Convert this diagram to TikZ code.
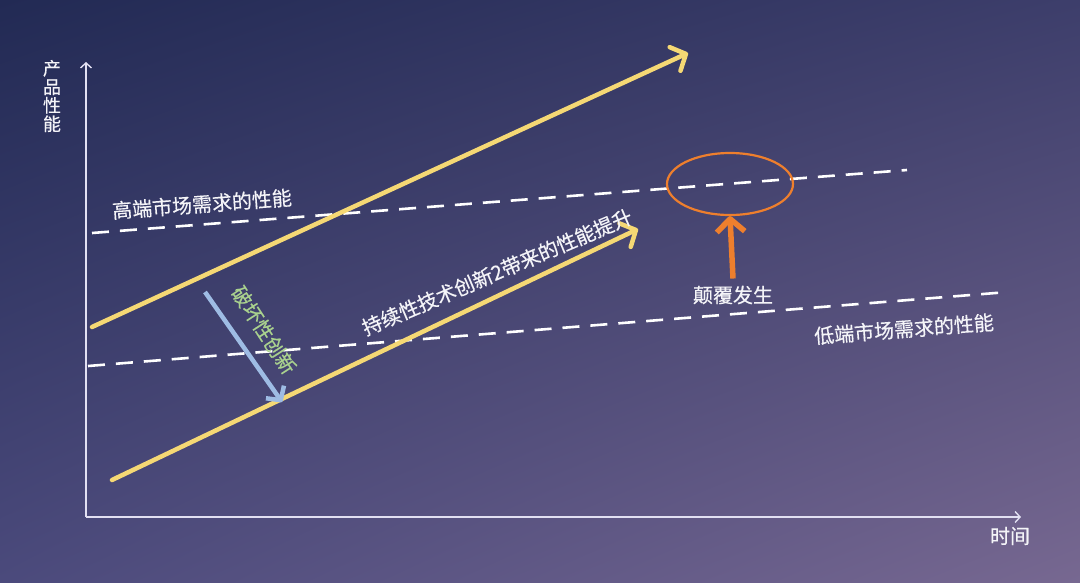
\documentclass[tikz,border=0pt]{standalone}
\usepackage{fontspec}
\setmainfont{Noto Sans CJK SC}[FakeBold=0.4]
\usepackage{xcolor}
\usetikzlibrary{arrows.meta,shapes.geometric,shadings}
\definecolor{bgUL}{HTML}{222A54}
\definecolor{bgUR}{HTML}{3D3E6B}
\definecolor{bgLL}{HTML}{4B4A7C}
\definecolor{bgLR}{HTML}{776891}
\definecolor{axiscol}{HTML}{E2E0F2}
\definecolor{growcol}{HTML}{F5D874}
\definecolor{breakcol}{HTML}{9EBCE4}
\definecolor{breaktxt}{HTML}{A9D18E}
\definecolor{flipcol}{HTML}{EE7F2D}
\definecolor{labcol}{HTML}{F4F4F8}

\begin{document}
\begin{tikzpicture}
    [
    x=1pt, y=-1pt
    , axisline/.style = {draw=axiscol, line width=1.4pt, -{Straight Barb[length=5pt,width=11pt]}}
    , growline/.style = {draw=growcol, line width=4.5pt, line cap=round, -{Straight Barb[length=12pt,width=26pt,line cap=round,line join=round]}}
    , demand/.style = {draw=white, line width=2.6pt, dash pattern=on 17pt off 11pt}
    , lab/.style = {text=labcol, font=\fontsize{20}{24}\selectfont, inner sep=0pt}
    ]
% background
\shade[upper left=bgUL, upper right=bgUR, lower left=bgLL, lower right=bgLR] (0,0) rectangle (1080,582);
\useasboundingbox (0,0) rectangle (1080,582);

% axes
\coordinate (origin) at (86,517);
\coordinate (ytop) at (86,62);
\coordinate (xend) at (1021,517);
\draw[axisline] (origin) -- (ytop);
\draw[axisline] (origin) -- (xend);
\node[lab, font=\fontsize{18}{18.5}\selectfont, align=center] (ylab) at (52,96) {产\\品\\性\\能};
\node[lab] (xlab) at (1010,536) {时间};

% market demand
\coordinate (hiA) at (92,233);
\coordinate (hiB) at (907,170);
\coordinate (loA) at (88,366);
\coordinate (loB) at (1008,292);
\draw[demand] (hiA) -- (hiB);
\draw[demand] (loA) -- (loB);
\node[lab, rotate=4.3] (hilab) at (202,204) {高端市场需求的性能};
\node[lab, rotate=4.5] (lolab) at (904,329) {低端市场需求的性能};

% sustaining innovation
\coordinate (upA) at (92,327);
\coordinate (upB) at (688,53);
\coordinate (dnA) at (112,480);
\coordinate (dnB) at (638,229);
\draw[growline] (upA) -- (upB);
\draw[growline] (dnA) -- (dnB);
\node[lab, rotate=23] (sustain) at (497,272) {持续性技术创新2带来的性能提升};

% disruptive innovation
\coordinate (brA) at (205,292);
\coordinate (brB) at (282,402);
\draw[draw=breakcol, line width=4.5pt, -{Straight Barb[length=10pt,width=22pt,line join=round]}] (brA) -- (brB);
\node[lab, text=breaktxt, rotate=-57] (breaklab) at (264,330) {破坏性创新};

% disruption happens
\node[ellipse, draw=flipcol, line width=2.2pt, minimum width=126pt, minimum height=62pt] (flip) at (730,184) {};
\node[lab] (fliplab) at (733,295) {颠覆发生};
\draw[draw=flipcol, line width=5.5pt, -{Straight Barb[length=13pt,width=28pt,line join=round]}] ([yshift=7pt]fliplab.north) -- (flip.south);
\end{tikzpicture}
\end{document}
